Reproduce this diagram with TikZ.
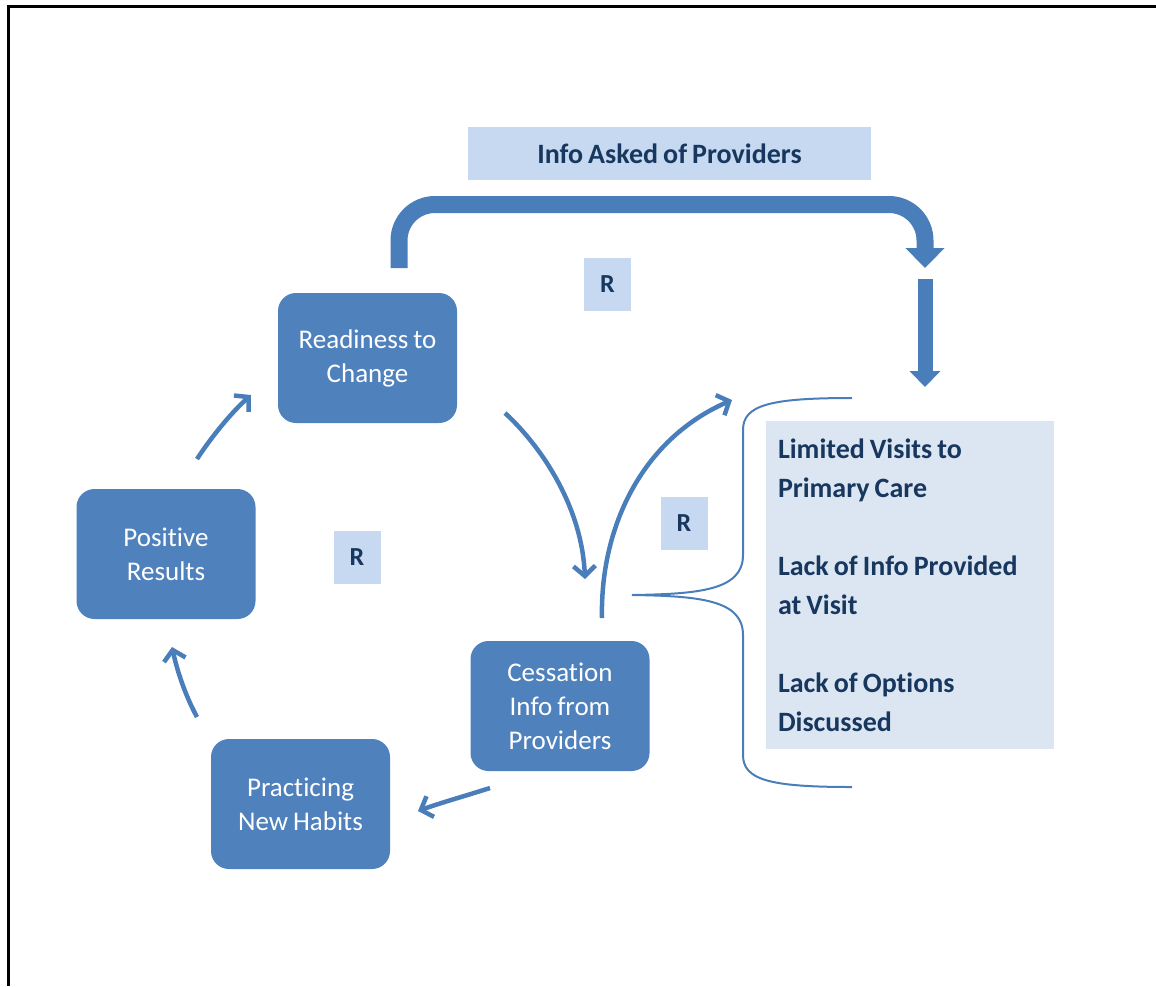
\documentclass[tikz,border=0pt]{standalone}
\usepackage{fontspec}
\setmainfont{Carlito}[WordSpace=0.8, Ligatures=NoCommon]
\usetikzlibrary{arrows.meta}
\definecolor{boxblue}{HTML}{4F81BD}
\definecolor{arrowblue}{HTML}{4A7EBB}
\definecolor{lightblue}{HTML}{C6D9F1}
\definecolor{paleblue}{HTML}{DCE6F2}
\definecolor{navy}{HTML}{17375E}
\tikzset{
  stage/.style={fill=boxblue, draw=none, rounded corners=18pt, minimum width=179pt, minimum height=130pt,
    align=center, text=white, inner sep=0pt, font=\fontsize{27}{34}\selectfont},
  rbox/.style={fill=lightblue, draw=none, minimum width=47pt, minimum height=53pt, inner sep=0pt,
    text=navy, font=\bfseries\fontsize{26}{30}\selectfont},
  labelbox/.style={fill=lightblue, draw=none, minimum width=403pt, minimum height=53pt, inner sep=0pt,
    text=navy, font=\bfseries\fontsize{28}{32}\selectfont},
  listbox/.style={fill=paleblue, draw=none, minimum width=288pt, minimum height=328pt, inner xsep=12pt, inner ysep=0pt,
    text width=264pt, align=flush left, text=navy, font=\bfseries\fontsize{28}{39}\selectfont},
  flow/.style={draw=arrowblue, line width=4.5pt, -{Straight Barb[length=10pt,width=22pt]}},
  bigflow/.style={draw=arrowblue, line width=17pt, -{Triangle[length=20pt,width=38pt]}},
  bigflowb/.style={draw=arrowblue, line width=15pt, -{Triangle[length=16pt,width=30pt]}},
  brace/.style={draw=arrowblue, line width=2pt},
  frameline/.style={draw=black, line width=3pt}
}
\begin{document}
\begin{tikzpicture}[x=1pt,y=-1pt]
\useasboundingbox (0,0) rectangle (1156,986);
% frame
\coordinate (ftr) at (1156,6);
\coordinate (ftl) at (8,6);
\coordinate (fbl) at (8,986);
\draw[frameline] (ftr) -- (ftl) -- (fbl);

% stage boxes
\node[stage] (ready) at (367.5,358) {Readiness to\\Change};
\node[stage] (pos) at (166,554) {Positive\\Results};
\node[stage] (prac) at (300.5,804) {Practicing\\New Habits};
\node[stage] (cess) at (560,706) {Cessation\\Info from\\Providers};

% labels
\node[labelbox] (ask) at (669.5,153.5) {Info Asked of Providers};
\node[rbox] (r1) at (607.5,284.5) {R};
\node[rbox] (r2) at (684,523.5) {R};
\node[rbox] (r3) at (357,557.5) {R};

% list box
\node[listbox] (list) at (910,585) {Limited Visits to\\Primary Care\\[39pt]Lack of Info Provided\\at Visit\\[39pt]Lack of Options\\Discussed};

% big bent arrow
\coordinate (bs) at (399,268);
\coordinate (be) at (925,268);
\draw[bigflow, rounded corners=36pt] (bs) -- (399,204.5) -- (925,204.5) -- (be);
% second down arrow
\coordinate (ds) at (925,279);
\coordinate (de) at (925,387);
\draw[bigflowb] (ds) -- (de);

% thin flow arrows
\coordinate (a1s) at (197,459);
\coordinate (a1e) at (251,395);
\draw[flow] (a1s) .. controls (212,436) and (232,412) .. (a1e);
\coordinate (a2s) at (505,413);
\coordinate (a2e) at (585,579);
\draw[flow] (a2s) .. controls (545,450) and (582,510) .. (a2e);
\coordinate (a3s) at (602,618);
\coordinate (a3e) at (732,400);
\draw[flow] (a3s) .. controls (600,530) and (640,440) .. (a3e);
\coordinate (a4s) at (490,788);
\coordinate (a4e) at (418,811);
\draw[flow] (a4s) .. controls (465,796) and (440,803) .. (a4e);
\coordinate (a5s) at (197,717);
\coordinate (a5e) at (172,647);
\draw[flow] (a5s) .. controls (185,695) and (177,670) .. (a5e);

% brace
\coordinate (bt) at (852,398);
\coordinate (bp) at (632,595);
\coordinate (bb) at (852,787);
\draw[brace] (bt) .. controls (770,398) and (743,405) .. (743,430)
  -- (743,555) .. controls (743,590) and (700,594) .. (bp)
  .. controls (700,596) and (743,600) .. (743,635)
  -- (743,755) .. controls (743,780) and (770,787) .. (bb);
\end{tikzpicture}
\end{document}
